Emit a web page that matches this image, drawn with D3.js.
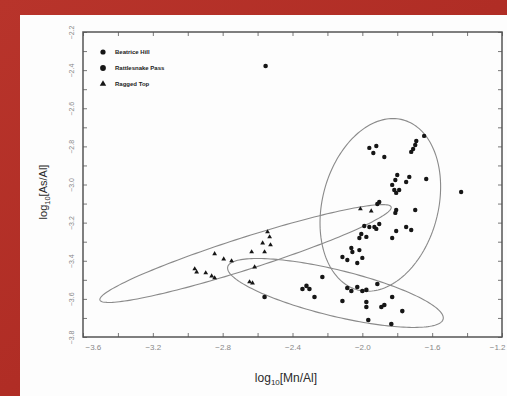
<!DOCTYPE html>
<html>
<head>
<meta charset="utf-8">
<script src="https://cdn.jsdelivr.net/npm/d3@7"></script>
<style>
  html, body { margin: 0; padding: 0; overflow: hidden; }
  body { width: 507px; height: 396px; }
</style>
</head>
<body>
<svg id="chart" width="507" height="396"></svg>
<script>
// series: log10[Mn/Al] (x) and log10[As/Al] (y)
const seriesNames = ['Beatrice Hill', 'Rattlesnake Pass', 'Ragged Top'];

const beatriceMn = [-1.646, -1.691, -1.697, -1.709, -1.72, -1.96, -1.92, -1.937, -1.874, -1.8,
  -1.811, -1.829, -1.817, -1.789, -1.806, -1.731, -1.749, -1.634, -1.806, -1.811,
  -1.697, -1.989, -1.96, -1.931, -1.903, -1.92, -2.006, -2.017, -1.977, -1.806,
  -1.829, -1.749, -1.72, -2.063, -2.057, -2.017, -2.114, -2.086, -2.029, -2.0,
  -1.903, -1.914, -1.434];
const beatriceAs = [-2.745, -2.772, -2.793, -2.814, -2.829, -2.808, -2.798, -2.835, -2.856, -2.95,
  -2.976, -3.002, -3.029, -3.029, -3.044, -2.96, -2.987, -2.971, -3.134, -3.149,
  -3.134, -3.218, -3.223, -3.223, -3.207, -3.233, -3.26, -3.281, -3.275, -3.244,
  -3.281, -3.223, -3.239, -3.333, -3.354, -3.344, -3.38, -3.396, -3.412, -3.385,
  -3.092, -3.102, -3.039];

const rattlesnakeMn = [-2.554, -2.56, -2.229, -2.343, -2.32, -2.303, -2.274, -2.086, -2.063, -2.0,
  -1.977, -2.029, -1.914, -1.829, -2.114, -1.977, -1.891, -1.874, -1.771, -1.966,
  -1.834, -1.977];
const rattlesnakeAs = [-2.378, -3.59, -3.485, -3.548, -3.532, -3.548, -3.59, -3.543, -3.559, -3.559,
  -3.553, -3.538, -3.522, -3.59, -3.611, -3.643, -3.643, -3.632, -3.664, -3.711,
  -3.732, -3.616];

const raggedMn = [-2.011, -1.949, -2.96, -2.949, -2.897, -2.863, -2.846, -2.846, -2.794, -2.749,
  -2.634, -2.56, -2.571, -2.531, -2.543, -2.526, -2.617, -2.646, -2.629];
const raggedAs = [-3.128, -3.139, -3.443, -3.459, -3.464, -3.48, -3.49, -3.364, -3.391, -3.401,
  -3.354, -3.354, -3.307, -3.275, -3.249, -3.317, -3.433, -3.511, -3.517];

// grouping ellipses: centre and two half-axis vectors, in data units
const ellipseCentres = [[-1.897, -3.107], [-2.669, -3.362], [-2.154, -3.569]];
const ellipseAxisA = [[0.130, 0.446], [0.834, 0.244], [0.617, -0.137]];
const ellipseAxisB = [[0.320, -0.079], [0.028, -0.080], [-0.031, -0.118]];

const xDomain = [-3.6, -1.2];
const yDomain = [-3.8, -2.2];
const xTicks = [-3.6, -3.2, -2.8, -2.4, -2.0, -1.6, -1.2];
const yTicks = [-3.8, -3.6, -3.4, -3.2, -3.0, -2.8, -2.6, -2.4, -2.2];

const width = 507, height = 396;
const margin = { top: 32, right: 5, bottom: 59, left: 83 };
const font = 'Arial, Liberation Sans, sans-serif';

const svg = d3.select('#chart');

// red frame with white slide panel
const defs = svg.append('defs');
const grad = defs.append('linearGradient')
  .attr('id', 'frame').attr('x1', 0).attr('y1', 0).attr('x2', 1).attr('y2', 1);
grad.append('stop').attr('offset', 0).attr('stop-color', '#b8342b');
grad.append('stop').attr('offset', 1).attr('stop-color', '#a8261f');

svg.append('rect').attr('width', width).attr('height', height).attr('fill', 'url(#frame)');
svg.append('rect').attr('x', 20).attr('y', 15)
  .attr('width', width - 20).attr('height', height - 15)
  .attr('fill', '#fdfdfd');

const x = d3.scaleLinear().domain(xDomain).range([margin.left, width - margin.right]);
const y = d3.scaleLinear().domain(yDomain).range([height - margin.bottom, margin.top]);

const fmt = d => d3.format('.1f')(d).replace('-', '\u2212');
const axisColor = '#555';

// minor ticks (inward, no labels)
const xMinor = d3.range(-3.6, -1.19, 0.2);
const yMinor = d3.range(-3.8, -2.19, 0.1);

function styleAxis(g) {
  g.select('.domain').remove();
  g.selectAll('.tick line').attr('stroke', axisColor).attr('stroke-width', 0.8);
}

svg.append('g')
  .attr('transform', `translate(0,${y.range()[0]})`)
  .call(d3.axisBottom(x).tickValues(xMinor).tickSize(-4).tickFormat(''))
  .call(styleAxis);
svg.append('g')
  .attr('transform', `translate(0,${y.range()[1]})`)
  .call(d3.axisTop(x).tickValues(xMinor).tickSize(-4).tickFormat(''))
  .call(styleAxis);
svg.append('g')
  .attr('transform', `translate(${x.range()[0]},0)`)
  .call(d3.axisLeft(y).tickValues(yMinor).tickSize(-4).tickFormat(''))
  .call(styleAxis);
svg.append('g')
  .attr('transform', `translate(${x.range()[1]},0)`)
  .call(d3.axisRight(y).tickValues(yMinor).tickSize(-4).tickFormat(''))
  .call(styleAxis);

// labelled x axis
const xAxis = svg.append('g')
  .attr('transform', `translate(0,${y.range()[0]})`)
  .call(d3.axisBottom(x).tickValues(xTicks).tickSize(0).tickPadding(7).tickFormat(fmt));
xAxis.select('.domain').remove();
xAxis.selectAll('text')
  .attr('fill', '#888').attr('font-family', font).attr('font-size', 8);
xAxis.selectAll('.tick').filter(d => d === xDomain[0]).select('text')
  .attr('text-anchor', 'start').attr('dx', 2);
xAxis.selectAll('.tick').filter(d => d === xDomain[1]).select('text')
  .attr('text-anchor', 'end').attr('dx', 3);

// labelled y axis, rotated labels
const yAxis = svg.append('g')
  .attr('transform', `translate(${x.range()[0]},0)`)
  .call(d3.axisLeft(y).tickValues(yTicks).tickSize(0).tickFormat(fmt));
yAxis.select('.domain').remove();
yAxis.selectAll('text')
  .attr('x', null).attr('dy', null)
  .attr('transform', 'translate(-9,0) rotate(-90)')
  .attr('text-anchor', 'middle')
  .attr('fill', '#888').attr('font-family', font).attr('font-size', 7);

// plot frame
svg.append('rect')
  .attr('x', x.range()[0]).attr('y', y.range()[1])
  .attr('width', x.range()[1] - x.range()[0])
  .attr('height', y.range()[0] - y.range()[1])
  .attr('fill', 'none').attr('stroke', axisColor).attr('stroke-width', 1.5);

// ellipses
const line = d3.line().x(p => x(p[0])).y(p => y(p[1])).curve(d3.curveLinearClosed);
ellipseCentres.forEach((c, i) => {
  const a = ellipseAxisA[i], b = ellipseAxisB[i];
  const pts = d3.range(0, 2 * Math.PI, Math.PI / 90).map(t => [
    c[0] + a[0] * Math.cos(t) + b[0] * Math.sin(t),
    c[1] + a[1] * Math.cos(t) + b[1] * Math.sin(t)
  ]);
  svg.append('path').attr('d', line(pts))
    .attr('fill', 'none').attr('stroke', '#8a8a8a').attr('stroke-width', 1.1);
});

// points
const dotColor = '#161616';
function circles(xs, ys, r) {
  svg.append('g').selectAll('circle')
    .data(xs.map((v, i) => [v, ys[i]]))
    .join('circle')
    .attr('cx', d => x(d[0])).attr('cy', d => y(d[1]))
    .attr('r', r).attr('fill', dotColor);
}
circles(beatriceMn, beatriceAs, 2.2);
circles(rattlesnakeMn, rattlesnakeAs, 2.3);

const tri = d3.symbol().type(d3.symbolTriangle).size(10);
svg.append('g').selectAll('path')
  .data(raggedMn.map((v, i) => [v, raggedAs[i]]))
  .join('path')
  .attr('d', tri)
  .attr('transform', d => `translate(${x(d[0])},${y(d[1])})`)
  .attr('fill', dotColor);

// legend
const legend = svg.append('g').attr('transform', 'translate(103,52)');
seriesNames.forEach((name, i) => {
  const row = legend.append('g').attr('transform', `translate(0,${i * 16})`);
  if (i < 2) {
    row.append('circle').attr('r', i === 0 ? 2.6 : 2.9).attr('fill', dotColor);
  } else {
    row.append('path').attr('d', d3.symbol().type(d3.symbolTriangle).size(18)).attr('fill', dotColor);
  }
  row.append('text').attr('x', 12).attr('dy', '0.35em')
    .attr('font-family', font).attr('font-size', 6)
    .attr('font-weight', 'bold').attr('fill', '#222')
    .text(name);
});

// axis titles
svg.append('text')
  .attr('x', 286).attr('y', 382)
  .attr('text-anchor', 'middle')
  .attr('font-family', font).attr('font-size', 12)
  .attr('fill', '#2a2a2a')
  .html('log<tspan font-size="8" dy="3">10</tspan><tspan dy="-3">[Mn/Al]</tspan>');

svg.append('text')
  .attr('transform', 'translate(47,192) rotate(-90)')
  .attr('text-anchor', 'middle')
  .attr('font-family', font).attr('font-size', 11)
  .attr('fill', '#2a2a2a')
  .html('log<tspan font-size="7.5" dy="3">10</tspan><tspan dy="-3">[As/Al]</tspan>');
</script>
</body>
</html>
